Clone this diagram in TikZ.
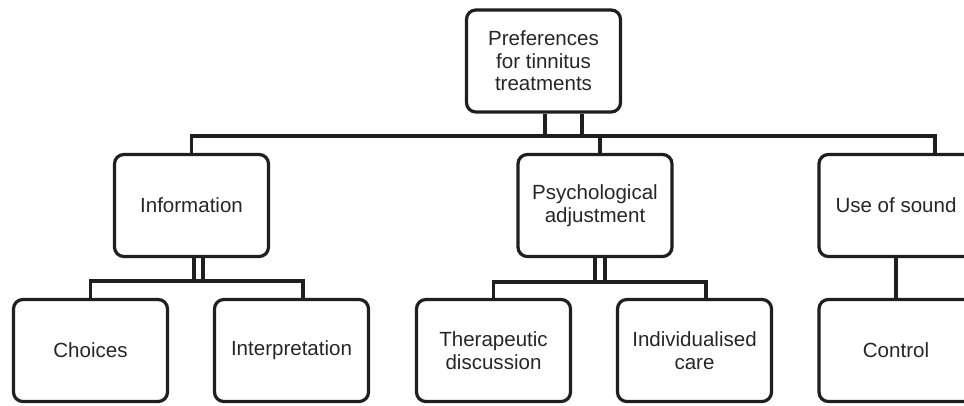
\documentclass[tikz,border=0pt]{standalone}
\usepackage{fontspec}
\setmainfont{Liberation Sans}
\begin{document}
\begin{tikzpicture}[x=0.75pt,y=-0.75pt,
  box/.style={draw=black!88, line width=2.4pt, rounded corners=7pt, minimum width=115.5pt, minimum height=76.5pt, inner sep=0pt, align=center, font=\fontsize{15.4}{16.8}\selectfont, text=black!85},
  conn/.style={draw=black!88, line width=2.3pt}]
\useasboundingbox (0,0) rectangle (964,405);
\clip (0,0) rectangle (964,405);
\node[box] (root) at (543.5,61) {Preferences\\for tinnitus\\treatments};
\node[box] (info) at (191.5,205.5) {Information};
\node[box] (psych) at (595,205.5) {Psychological\\adjustment};
\node[box] (sound) at (896,205.5) {Use of sound};
\node[box] (choices) at (90.5,350.5) {Choices};
\node[box] (interp) at (291.5,350.5) {Interpretation};
\node[box] (therap) at (493.5,350.5) {Therapeutic\\discussion};
\node[box] (indiv) at (694.5,350.5) {Individualised\\care};
\node[box] (control) at (896,350.5) {Control};
% top bus
\coordinate (bus) at (0,136);
\coordinate (ra) at (545,0);
\coordinate (rb) at (582,0);
\coordinate (pt) at (600,0);
\coordinate (st) at (935,0);
\draw[conn] (root.south -| ra) -- (bus -| ra);
\draw[conn] (root.south -| rb) -- (bus -| rb);
\draw[conn] (info.north) -- (info.north |- bus) -- (bus -| st) -- (sound.north -| st);
\draw[conn] (bus -| pt) -- (psych.north -| pt);
% information children
\coordinate (ibus) at (0,281);
\coordinate (ia) at (194,0);
\coordinate (ib) at (203,0);
\coordinate (ic) at (303,0);
\draw[conn] (info.south -| ia) -- (ibus -| ia);
\draw[conn] (info.south -| ib) -- (ibus -| ib);
\draw[conn] (choices.north) -- (choices.north |- ibus) -- (ibus -| ic) -- (interp.north -| ic);
% psychological children
\coordinate (pbus) at (0,282);
\coordinate (pa) at (595,0);
\coordinate (pb) at (605,0);
\coordinate (pc) at (706,0);
\draw[conn] (psych.south -| pa) -- (pbus -| pa);
\draw[conn] (psych.south -| pb) -- (pbus -| pb);
\draw[conn] (therap.north) -- (therap.north |- pbus) -- (pbus -| pc) -- (indiv.north -| pc);
% sound child
\draw[conn] (sound.south) -- (control.north);
\end{tikzpicture}
\end{document}
